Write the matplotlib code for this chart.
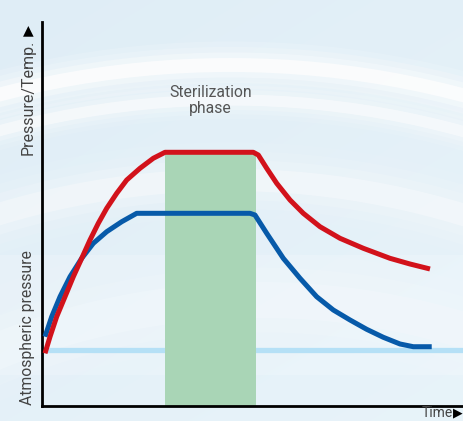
import numpy as np
import matplotlib
matplotlib.use("Agg")
import matplotlib.pyplot as plt
from matplotlib.patches import Arc

# ---- data (axis units 0..100) ----
red_x = [0.71, 1.90, 3.48, 5.45, 7.42, 9.41, 11.37, 13.34, 15.33, 17.70, 20.07, 23.22, 26.37, 29.15,
         50.07, 51.26, 53.25, 55.62, 58.77, 61.92, 65.88, 70.62, 76.14, 82.46, 87.20, 91.94]
red_y = [13.72, 18.05, 23.26, 28.46, 33.67, 38.46, 43.23, 47.58, 51.48, 55.39, 58.85, 61.90, 64.51, 66.07,
         66.07, 65.36, 61.90, 57.99, 53.65, 50.18, 46.69, 43.67, 41.07, 38.46, 36.98, 35.68]
blue_x = [0.71, 2.30, 4.27, 6.64, 9.41, 12.16, 15.33, 18.89, 22.44,
          49.29, 50.47, 53.25, 57.18, 61.14, 65.09, 69.03, 72.99, 76.94, 80.88, 84.83, 87.99, 92.35]
blue_y = [18.05, 23.26, 28.46, 33.67, 38.46, 42.37, 45.39, 47.99, 50.18,
          50.18, 49.74, 44.97, 38.46, 33.26, 28.46, 25.00, 22.40, 19.97, 17.89, 16.15, 15.44, 15.44]
atm_level = 14.6
phase_start, phase_end, phase_top = 29.1, 50.7, 66.0
phase_label = "Sterilization\nphase"
ylabel_top = "Pressure/Temp."
ylabel_bottom = "Atmospheric pressure"
xlabel = "Time"

W, H = 464, 421
fig = plt.figure(figsize=(W / 100, H / 100), dpi=100)

# ---- background ----
bg = fig.add_axes([0, 0, 1, 1])
bg.set_xlim(0, W)
bg.set_ylim(H, 0)
bg.axis("off")
yy, xx = np.mgrid[0:H, 0:W]
c1 = np.array([0.875, 0.93, 0.965])
c2 = np.array([0.91, 0.955, 0.98])
t = (xx / W * 0.4 + yy / H * 0.6)[..., None]
img = c1 * (1 - t) + c2 * t
bg.imshow(img, extent=[0, W, H, 0], aspect="auto", zorder=0)
for (cx, cy, r, lw, a) in [(230, 980, 915, 10, 0.75), (230, 980, 880, 8, 0.5),
                           (230, 980, 800, 16, 0.35), (260, 1000, 700, 26, 0.2)]:
    for k in range(4):
        bg.add_patch(Arc((cx, cy), 2 * r, 2 * r, theta1=180, theta2=360,
                         lw=lw * (1 + k * 0.8), color="white", alpha=a / (1 + 1.5 * k),
                         zorder=1))
bg.add_patch(plt.Rectangle((0, 255), W, 120, color="white", alpha=0.18, lw=0, zorder=1))

# ---- main axes ----
left, right_px, top_px, bottom_px = 42, 464, 22, 406
ax = fig.add_axes([left / W, (H - bottom_px) / H, (right_px - left) / W, (bottom_px - top_px) / H])
ax.set_facecolor("none")
ax.set_xlim(0, 100)
ax.set_ylim(0, 100)
for s in ["top", "right"]:
    ax.spines[s].set_visible(False)
for s in ["left", "bottom"]:
    ax.spines[s].set_color("black")
    ax.spines[s].set_linewidth(2.0)
ax.set_xticks([])
ax.set_yticks([])

ax.axhline(atm_level, color="#b5e0f6", lw=3.8, zorder=1)
ax.fill_between([phase_start, phase_end], 0, phase_top, color="#a9d5b6", lw=0, zorder=2)
ax.plot(red_x, red_y, color="#d2121b", lw=3.6, solid_capstyle="butt", solid_joinstyle="round", zorder=4)
ax.plot(blue_x, blue_y, color="#075aa9", lw=3.6, solid_capstyle="butt", solid_joinstyle="round", zorder=3)

ax.text((phase_start + phase_end) / 2, 79.5, phase_label, ha="center", va="center",
        fontsize=11.3, color="#555555", family="Roboto", linespacing=1.05)

# ---- axis labels ----
fig.text(28 / W, 1 - 97 / H, ylabel_top, rotation=90, ha="center", va="center",
         fontsize=11.5, color="#444444", family="Roboto")
fig.text(28 / W, 1 - 328 / H, ylabel_bottom, rotation=90, ha="center", va="center",
         fontsize=11.3, color="#444444", family="Roboto")
fig.text(28 / W, 1 - 30 / H, "▲", ha="center", va="center", fontsize=10, color="black",
         family="DejaVu Sans")
fig.text(437 / W, 1 - 413 / H, xlabel, ha="center", va="center",
         fontsize=10, color="#444444", family="Roboto")
fig.text(458 / W, 1 - 413 / H, "▶", ha="center", va="center", fontsize=9, color="black",
         family="DejaVu Sans")

fig.savefig("out.png", dpi=100)
